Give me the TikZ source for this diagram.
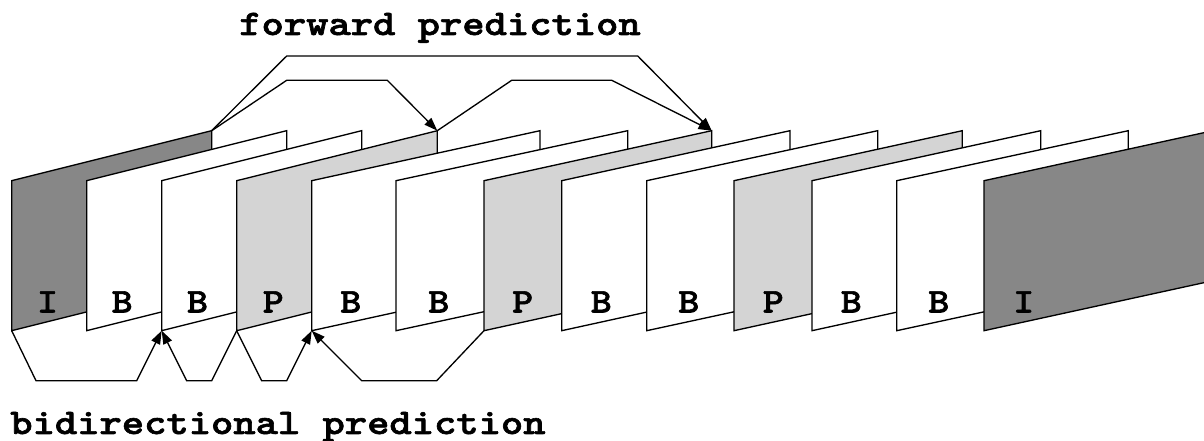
\documentclass[tikz,border=0pt]{standalone}
\usepackage{fontspec}
\newfontfamily\courb{lmmonolt10-bold}[Extension=.otf, FakeBold=1.6]
\usetikzlibrary{arrows.meta}
\definecolor{ifill}{RGB}{135,135,135}
\definecolor{pfill}{RGB}{212,212,212}
\definecolor{bfill}{RGB}{255,255,255}
\tikzset{
  framebox/.style={draw=black, line width=1pt, line join=miter},
  lbl/.style={anchor=base, inner sep=0pt, xscale=1.15, transform shape, font=\courb\fontsize{26}{30}\selectfont},
  title/.style={inner sep=0pt, xscale=1.18, transform shape, font=\courb\fontsize{27}{30}\selectfont},
  pred/.style={draw=black, line width=1pt, -{Triangle[length=10pt,width=7pt]}},
}
% #1 name, #2 left x, #3 top-right x, #4 fill, #5 label x, #6 letter
\newcommand{\vframe}[6]{%
  \coordinate (#1bl) at (#2,330.7);
  \coordinate (#1tl) at (#2,180.7);
  \coordinate (#1tr) at (#3,130.7);
  \coordinate (#1br) at (#3,280.7);
  \filldraw[framebox, fill=#4] (#1bl) -- (#1tl) -- (#1tr) -- (#1br) -- cycle;
  \node[lbl] (#1lbl) at (#5,312.5) {#6};
}
\begin{document}
\begin{tikzpicture}[x=0.75pt,y=-0.75pt]
\useasboundingbox (0,0) rectangle (1204,441);
\begin{scope}
\clip (0,0) rectangle (1204,441);
\vframe{f1}{11.7}{211.7}{ifill}{47.5}{I}
\vframe{f2}{86.7}{286.7}{bfill}{122.2}{B}
\vframe{f3}{161.7}{361.7}{bfill}{197.5}{B}
\vframe{f4}{236.7}{437.3}{pfill}{273.3}{P}
\vframe{f5}{311.7}{540}{bfill}{350.8}{B}
\vframe{f6}{396}{627.7}{bfill}{438.8}{B}
\vframe{f7}{484}{711.7}{pfill}{522.7}{P}
\vframe{f8}{561.7}{790}{bfill}{601.3}{B}
\vframe{f9}{646.7}{877.7}{bfill}{688.8}{B}
\vframe{f10}{734}{962.3}{pfill}{773.3}{P}
\vframe{f11}{812}{1040.7}{bfill}{851.3}{B}
\vframe{f12}{896.7}{1128.3}{bfill}{938.8}{B}
\vframe{f13}{984}{1213}{ifill}{1023.7}{I}
\end{scope}

% forward prediction
\draw[pred] (f1tr) -- (286.7,56) -- (637.7,56) -- (f7tr);
\draw[pred] (f1tr) -- (286.7,80.3) -- (387.3,80.3) -- (f4tr);
\draw[pred] (f4tr) -- (511.7,80.3) -- (611.7,80.3) -- (f7tr);

% bidirectional prediction
\draw[pred] (f1bl) -- (36,380.7) -- (136.7,380.7) -- (f3bl);
\draw[pred] (f4bl) -- (211.7,380.7) -- (186.7,380.7) -- (f3bl);
\draw[pred] (f4bl) -- (261.7,380.7) -- (286.7,380.7) -- (f5bl);
\draw[pred] (f7bl) -- (436.7,380.7) -- (361.7,380.7) -- (f5bl);

\node[title, anchor=base] (fwd) at (440,35) {forward prediction};
\node[title, anchor=base west] (bid) at (10,434) {bidirectional prediction};
\end{tikzpicture}
\end{document}
